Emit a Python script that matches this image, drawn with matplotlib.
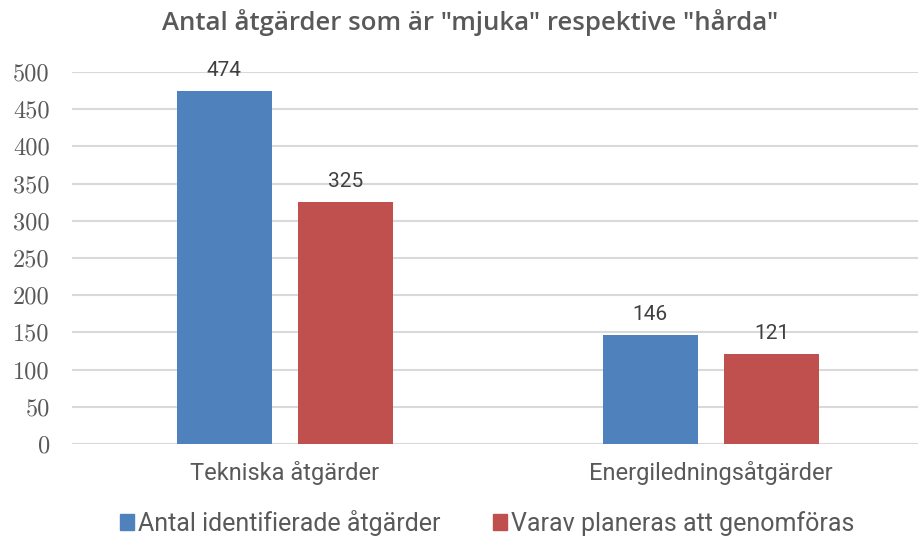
import matplotlib
matplotlib.use("Agg")
import matplotlib.pyplot as plt
import numpy as np
from matplotlib.patches import Patch

categories = ["Tekniska åtgärder", "Energiledningsåtgärder"]
series_names = ["Antal identifierade åtgärder", "Varav planeras att genomföras"]
identified = [474, 146]
planned = [325, 121]
yticks = [0, 50, 100, 150, 200, 250, 300, 350, 400, 450, 500]

blue = "#4F81BD"
red = "#C0504D"
txt = "#404040"
sans = ["Roboto", "DejaVu Sans"]

fig = plt.figure(figsize=(9.18, 5.37), dpi=100)
ax = fig.add_axes([72 / 918, 0.1732, 852 / 918, 0.6928])

x = np.arange(len(categories))
w = 0.223
off = 0.1425
b1 = ax.bar(x - off, identified, w, color=blue, zorder=3)
b2 = ax.bar(x + off, planned, w, color=red, zorder=3)

for bars, vals in ((b1, identified), (b2, planned)):
    for r, v in zip(bars, vals):
        ax.annotate(str(v), (r.get_x() + r.get_width() / 2, v), xytext=(0, 8),
                    textcoords="offset points", ha="center", va="bottom",
                    fontsize=15, color=txt, family=sans)

ax.set_xlim(-0.5, 1.5)
ax.set_ylim(0, 500)
ax.set_yticks(yticks)
ax.set_yticklabels([str(t) for t in yticks], family="cmr10", fontsize=17.5, color="#595959")
ax.set_xticks(x)
ax.set_xticklabels(categories, family=sans, fontsize=17, color="#595959")
ax.tick_params(axis="both", length=0)
ax.tick_params(axis="y", pad=16)
ax.tick_params(axis="x", pad=12)
ax.grid(axis="y", color="#D9D9D9", linewidth=1.5, zorder=0)
for s in ax.spines.values():
    s.set_visible(False)

fig.text(0.512, 0.958, 'Antal åtgärder som är "mjuka" respektive "hårda"', ha="center", va="center",
         fontsize=18.5, fontweight="semibold", color="#595959", family=["Open Sans", "DejaVu Sans"])

handles = [Patch(color=blue), Patch(color=red)]
fig.legend(handles, series_names, loc="lower center", bbox_to_anchor=(0.531, -0.04), ncol=2,
           frameon=False, prop={"family": sans, "size": 18}, labelcolor="#595959",
           handlelength=0.55, handleheight=0.6, handletextpad=0.17, columnspacing=2.1)

fig.savefig("out.png", dpi=100)
